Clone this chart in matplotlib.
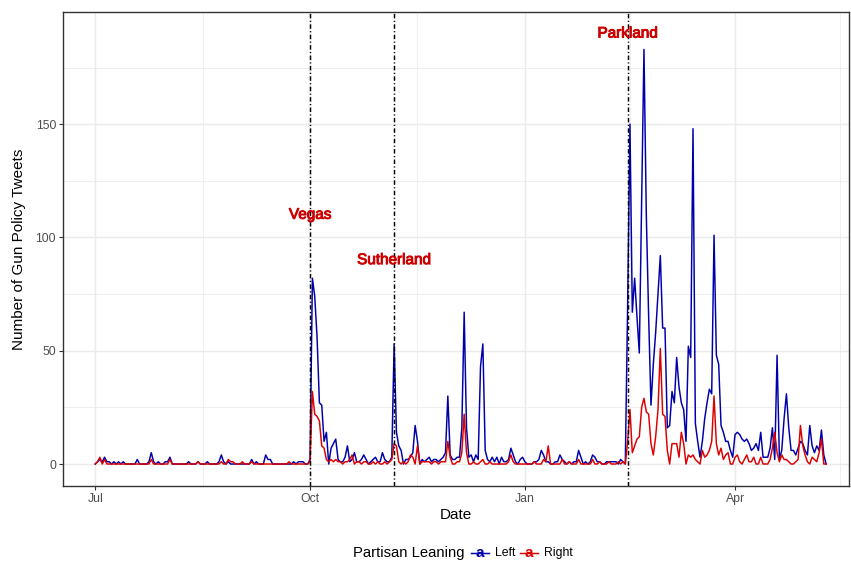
import matplotlib
matplotlib.use("Agg")
import matplotlib.pyplot as plt
import matplotlib.dates as mdates
import matplotlib.patheffects as pe
from matplotlib.lines import Line2D
import pandas as pd

plt.rcParams['font.family'] = ['Liberation Sans', 'DejaVu Sans']

# daily counts of gun policy tweets, 2017-07-01 .. 2018-05-10
start_date = "2017-07-01"

left_tweets = (
    [0, 1, 2, 1, 3, 1, 1, 0, 1, 0, 1, 0, 1, 0, 0, 0, 0, 0, 2, 0,
     0, 0, 0, 1, 5, 1, 0, 1, 0, 0, 1]                                  # jul
    + [1, 3, 0, 0, 0, 0, 0, 0, 0, 1, 0, 0, 0, 1, 0, 0, 0, 1, 0, 0,
       0, 0, 1, 4, 1, 0, 1, 0, 0, 0, 0]                                # aug
    + [0, 0, 0, 0, 0, 2, 0, 1, 0, 0, 0, 4, 2, 2, 0, 0, 0, 0, 0, 0,
       0, 0, 0, 1, 0, 1, 1, 1, 0, 0]                                   # sep
    + [2, 82, 74, 56, 27, 26, 10, 14, 0, 7, 9, 11, 2, 1, 1, 3, 8, 1, 2, 5,
       1, 1, 2, 4, 2, 0, 1, 2, 3, 1, 1]                                # oct
    + [5, 2, 1, 1, 3, 53, 14, 8, 6, 0, 2, 2, 3, 5, 17, 10, 0, 2, 1, 2,
       3, 1, 2, 2, 1, 2, 3, 5, 30, 4]                                  # nov
    + [2, 2, 3, 3, 16, 67, 16, 3, 4, 1, 4, 2, 43, 53, 6, 2, 1, 3, 1, 3,
       0, 3, 1, 1, 2, 7, 4, 1, 0, 2, 3]                                # dec
    + [1, 0, 0, 0, 1, 1, 2, 6, 4, 1, 1, 0, 0, 1, 1, 4, 2, 1, 0, 1,
       0, 1, 1, 6, 3, 0, 1, 0, 1, 4, 3]                                # jan
    + [1, 1, 0, 0, 1, 1, 1, 1, 1, 0, 2, 1, 0, 70, 150, 67, 82, 65, 49, 116,
       183, 110, 65, 26, 44, 58, 75, 92]                               # feb
    + [60, 60, 16, 17, 32, 27, 47, 34, 27, 24, 10, 52, 47, 148, 18, 10, 3, 10, 20, 27,
       33, 31, 101, 48, 44, 17, 14, 10, 10, 6, 3]                      # mar
    + [13, 14, 13, 11, 10, 11, 9, 6, 7, 9, 6, 14, 3, 3, 3, 7, 16, 2, 48, 2,
       6, 20, 31, 16, 6, 6, 4, 7, 10, 9]                               # apr
    + [6, 4, 17, 8, 5, 8, 6, 15, 4, 0]                                 # may
)

right_tweets = (
    [0, 1, 3, 0, 2, 0, 0, 0, 0, 0, 0, 0, 0, 0, 0, 0, 0, 0, 0, 0,
     0, 0, 0, 0, 2, 0, 0, 0, 0, 0, 0]
    + [0, 2, 0, 0, 0, 0, 0, 0, 0, 0, 0, 0, 0, 1, 0, 0, 0, 0, 0, 0,
       0, 0, 0, 1, 0, 0, 2, 1, 1, 0, 0]
    + [0, 1, 0, 0, 0, 1, 0, 0, 0, 0, 0, 0, 0, 0, 0, 0, 0, 0, 0, 0,
       0, 1, 0, 0, 0, 0, 0, 0, 0, 0]
    + [1, 32, 22, 21, 19, 8, 7, 2, 1, 2, 1, 2, 1, 1, 0, 1, 1, 2, 4, 0,
       1, 1, 0, 1, 1, 0, 0, 1, 0, 1, 0]
    + [0, 1, 0, 1, 2, 9, 8, 1, 0, 1, 0, 1, 4, 3, 0, 8, 0, 1, 1, 1,
       1, 0, 1, 1, 0, 1, 1, 1, 10, 3]
    + [0, 0, 1, 1, 5, 22, 5, 0, 0, 1, 0, 0, 1, 2, 0, 0, 1, 0, 0, 0,
       0, 0, 0, 0, 1, 4, 1, 0, 0, 0, 0]
    + [0, 0, 0, 0, 1, 0, 0, 0, 2, 1, 8, 0, 0, 0, 0, 0, 2, 0, 0, 1,
       0, 0, 0, 2, 0, 0, 0, 0, 0, 2, 0]
    + [0, 1, 0, 0, 0, 1, 0, 0, 0, 1, 0, 1, 0, 10, 24, 5, 8, 11, 12, 25,
       29, 23, 22, 9, 4, 12, 24, 51]
    + [22, 21, 6, 0, 9, 9, 9, 3, 14, 9, 0, 4, 3, 4, 2, 1, 0, 6, 3, 4,
       6, 10, 30, 9, 4, 7, 2, 4, 5, 0, 0]
    + [3, 4, 1, 0, 2, 4, 1, 1, 3, 0, 0, 3, 0, 0, 0, 2, 7, 14, 5, 1,
       4, 2, 2, 1, 0, 0, 1, 2, 17, 8]
    + [4, 1, 0, 3, 2, 1, 5, 11, 0, 0]
)

events = ["Vegas", "Sutherland", "Parkland"]
event_dates = ["2017-10-01", "2017-11-06", "2018-02-14"]
event_label_y = [110, 90, 190]

leanings = ["Left", "Right"]
leaning_colors = ["#0000AA", "#DD0000"]
label_color = "#CC0000"

dates = pd.date_range(start_date, periods=len(left_tweets), freq="D")

W, H = 851, 562
fig = plt.figure(figsize=(W / 100, H / 100), dpi=100)
ax = fig.add_axes([63 / W, 1 - 486 / H, (849 - 63) / W, (486 - 12) / H])

ax.plot(dates, left_tweets, color=leaning_colors[0], lw=1.07, zorder=3)
ax.plot(dates, right_tweets, color=leaning_colors[1], lw=1.07, zorder=3)

for name, d, y in zip(events, event_dates, event_label_y):
    d = pd.Timestamp(d)
    ax.axvline(d, color="black", lw=1.07, ls=(0, (3.0, 1.6, 0.8, 1.6)), zorder=4)
    ax.text(d, y, name, color=label_color, fontsize=11, ha="center", va="center",
            zorder=5,
            path_effects=[pe.withStroke(linewidth=0.7, foreground=label_color)])

# axis limits and breaks
t0 = pd.Timestamp(start_date)
ax.set_xlim(t0 - pd.Timedelta(days=13.8), t0 + pd.Timedelta(days=322.8))
ax.set_ylim(-9.7, 199.5)

major_x = pd.to_datetime(["2017-07-01", "2017-10-01", "2018-01-01", "2018-04-01"])
minor_x = pd.to_datetime(["2017-08-16", "2017-11-16", "2018-02-15", "2018-05-16"])
ax.set_xticks(major_x)
ax.set_xticks(minor_x, minor=True)
ax.xaxis.set_major_formatter(mdates.DateFormatter("%b"))
ax.set_yticks([0, 50, 100, 150])
ax.set_yticks([25, 75, 125, 175], minor=True)

ax.set_axisbelow(True)
ax.grid(which="major", color="#EBEBEB", lw=1.07)
ax.grid(which="minor", color="#EBEBEB", lw=0.55)

for s in ax.spines.values():
    s.set_color("#333333")
    s.set_linewidth(1.0)

ax.tick_params(which="major", length=2.75, width=0.8, color="#333333",
               labelcolor="#4D4D4D", labelsize=8.8, pad=2.2)
ax.tick_params(which="minor", length=0)

ax.set_xlabel("Date", fontsize=11, labelpad=2.5)
ax.set_ylabel("Number of Gun Policy Tweets", fontsize=11, labelpad=7)

# legend row at the bottom
ly = 1 - 553 / H
fig.text(353 / W, ly, "Partisan Leaning", fontsize=10.6, ha="left", va="center")
key_x = [(471, 489, 495), (520, 538, 544)]
for (x0, x1, xt), lab, col in zip(key_x, leanings, leaning_colors):
    fig.add_artist(Line2D([x0 / W, x1 / W], [ly, ly], color=col, lw=1.07,
                          transform=fig.transFigure))
    fig.text((x0 + x1) / 2 / W, ly, "a", color=col, fontsize=11,
             ha="center", va="center", fontweight="bold")
    fig.text(xt / W, ly, lab, fontsize=8.8, ha="left", va="center")

fig.savefig("out.png", dpi=100)
